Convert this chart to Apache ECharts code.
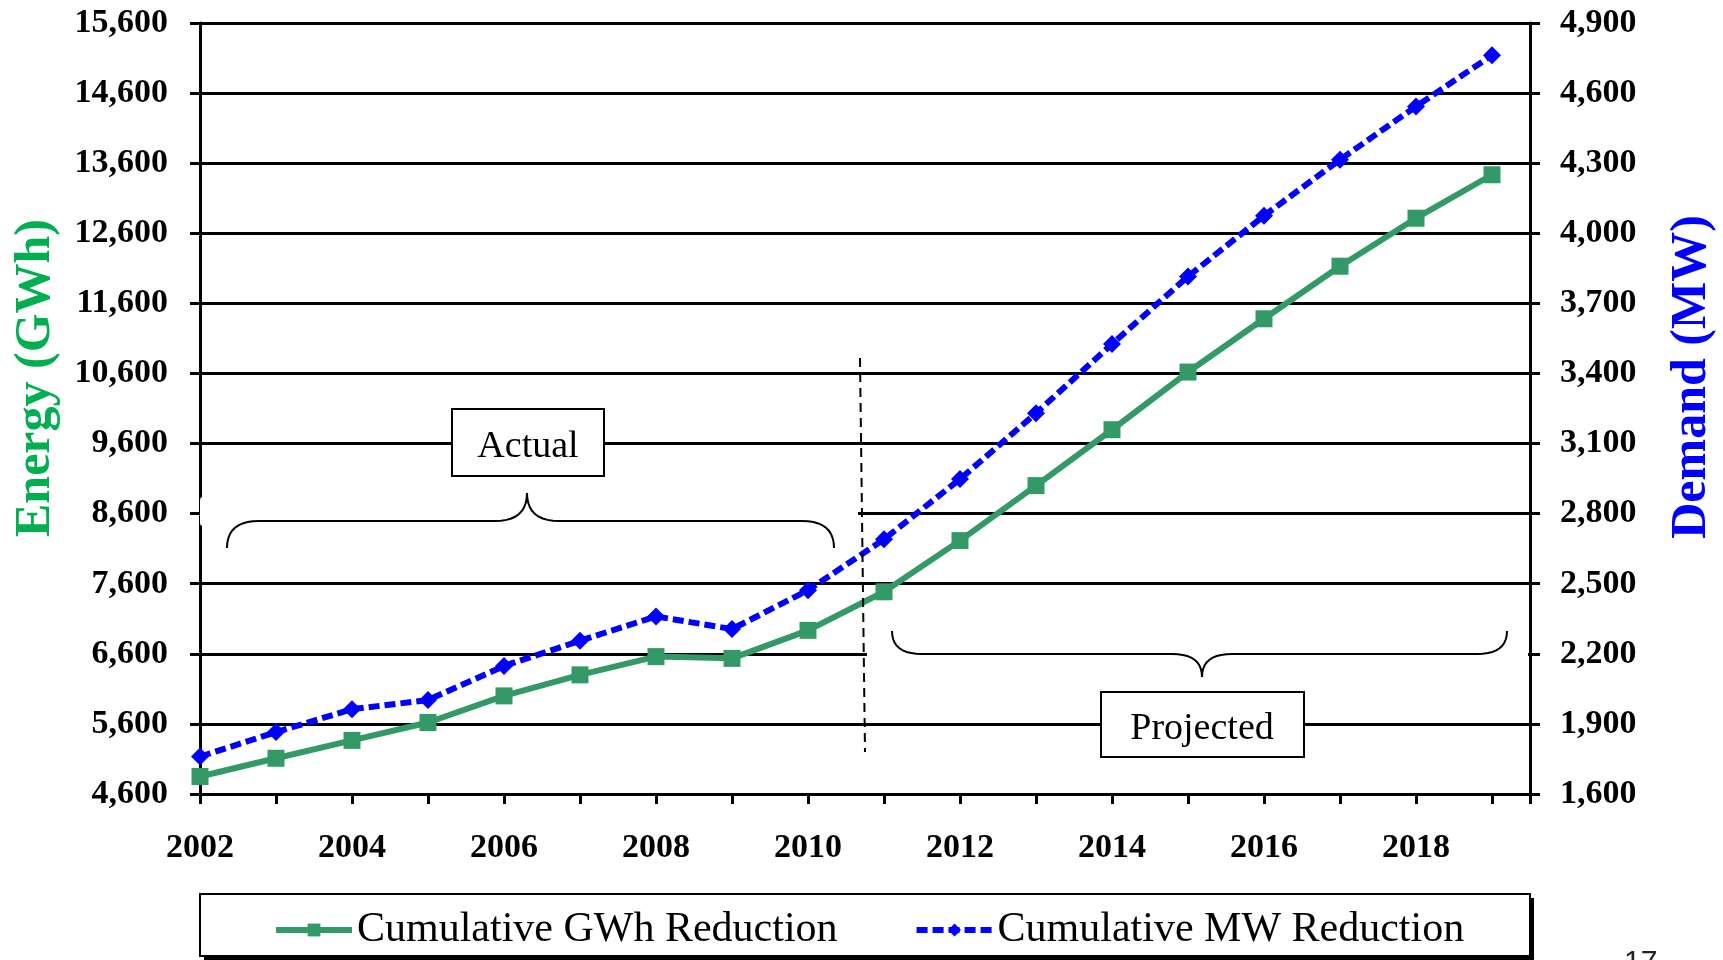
<!DOCTYPE html>
<html>
<meta charset="UTF-8">
<title>cumulative-reduction</title>
<style type="text/css">
    html,
    body {
        margin: 0px;
        width: 100%;
        height: 100%;
        background: #fff;
    }

    #chart {
        width: 1723px;
        height: 960px;
    }
</style>
<script src="https://cdn.jsdelivr.net/npm/echarts@6/dist/echarts.min.js"></script>

<body>
    <div id="chart"></div>
    <script>
        const years = [2002, 2003, 2004, 2005, 2006, 2007, 2008, 2009, 2010, 2011, 2012, 2013, 2014, 2015, 2016, 2017, 2018, 2019];
        // cumulative energy reduction, GWh (left axis)
        const gwhReduction = [4850, 5110, 5365, 5620, 6000, 6300, 6560, 6535, 6935, 7485, 8215, 9000, 9797, 10620, 11380, 12130, 12815, 13435];
        // cumulative demand reduction, MW (right axis)
        const mwReduction = [1760, 1865, 1963, 2002, 2148, 2256, 2360, 2306, 2472, 2690, 2948, 3230, 3526, 3815, 4075, 4315, 4543, 4762];
        const seriesNames = ['Cumulative GWh Reduction', 'Cumulative MW Reduction'];
        const axisTitles = ['Energy (GWh)', 'Demand (MW)'];
        const periodLabels = ['Actual', 'Projected'];
        const pageNumber = '17';

        const serif = "'Liberation Serif', 'Times New Roman', serif";
        const labelStyle = { color: '#000', fontFamily: serif, fontWeight: 'bold', fontSize: 34 };

        // curly brace as a polyline: x0..x1 ends, tip at xm, arms at yLine, ends/tip at yEnd/yTip
        function bracePoints(x0, x1, xm, yEnd, yLine, yTip, r) {
            const pts = [];
            const quad = (p0, c, p1) => {
                for (let t = 0; t <= 1.0001; t += 0.1) {
                    const a = (1 - t) * (1 - t), b = 2 * (1 - t) * t, d = t * t;
                    pts.push([a * p0[0] + b * c[0] + d * p1[0], a * p0[1] + b * c[1] + d * p1[1]]);
                }
            };
            quad([x0, yEnd], [x0, yLine], [x0 + r, yLine]);
            quad([xm - r, yLine], [xm, yLine], [xm, yTip]);
            quad([xm, yTip], [xm, yLine], [xm + r, yLine]);
            quad([x1 - r, yLine], [x1, yLine], [x1, yEnd]);
            return pts;
        }

        const chart = echarts.init(document.querySelector('#chart'));

        const options = {
            backgroundColor: '#fff',
            animation: false,
            grid: { left: 200, right: 193, top: 23, bottom: 166 },
            xAxis: {
                type: 'value',
                min: 2002,
                max: 2019.5,
                interval: 1,
                axisLine: { lineStyle: { color: '#000', width: 3 } },
                axisTick: { show: true, length: 10, lineStyle: { color: '#000', width: 3 } },
                splitLine: { show: false },
                axisLabel: Object.assign({
                    margin: 37,
                    formatter: v => (Number.isInteger(v) && v % 2 === 0 && v < 2019) ? String(v) : ''
                }, labelStyle)
            },
            yAxis: [
                {
                    type: 'value',
                    min: 4600,
                    max: 15600,
                    interval: 1000,
                    axisLine: { show: true, lineStyle: { color: '#000', width: 3 } },
                    axisTick: { show: true, length: 10, lineStyle: { color: '#000', width: 3 } },
                    splitLine: { show: true, lineStyle: { color: '#000', width: 3 } },
                    axisLabel: Object.assign({
                        margin: 32,
                        formatter: v => v.toLocaleString('en-US')
                    }, labelStyle)
                },
                {
                    type: 'value',
                    position: 'right',
                    min: 1600,
                    max: 4900,
                    interval: 300,
                    axisLine: { show: true, lineStyle: { color: '#000', width: 3 } },
                    axisTick: { show: true, length: 10, lineStyle: { color: '#000', width: 3 } },
                    splitLine: { show: false },
                    axisLabel: Object.assign({
                        margin: 30,
                        formatter: v => v.toLocaleString('en-US')
                    }, labelStyle)
                }
            ],
            legend: {
                left: 268,
                top: 901,
                itemWidth: 76,
                itemHeight: 16,
                itemGap: 76,
                data: seriesNames,
                lineStyle: { width: 6 },
                textStyle: { color: '#000', fontFamily: serif, fontSize: 42, lineHeight: 48 }
            },
            series: [
                {
                    name: seriesNames[0],
                    type: 'line',
                    yAxisIndex: 0,
                    z: 3,
                    data: years.map((y, i) => [y, gwhReduction[i]]),
                    symbol: 'rect',
                    symbolSize: 17,
                    color: '#339966',
                    itemStyle: { color: '#339966' },
                    lineStyle: { color: '#339966', width: 6 }
                },
                {
                    name: seriesNames[1],
                    type: 'line',
                    yAxisIndex: 1,
                    z: 3,
                    data: years.map((y, i) => [y, mwReduction[i]]),
                    symbol: 'diamond',
                    symbolSize: 18,
                    color: '#0000ff',
                    itemStyle: { color: '#0000ff' },
                    lineStyle: { color: '#0000ff', width: 6, type: [11, 5] }
                }
            ],
            graphic: [
                // legend frame with its drop shadow
                { type: 'rect', z: 0, shape: { x: 204, y: 898, width: 1330, height: 62 }, style: { fill: '#000' } },
                {
                    type: 'rect', z: 0,
                    shape: { x: 200, y: 894, width: 1330, height: 62 },
                    style: { fill: '#fff', stroke: '#000', lineWidth: 2 }
                },
                // white patches that hide parts of the gridlines
                { type: 'rect', z: 1, shape: { x: 203, y: 508, width: 655, height: 11 }, style: { fill: '#fff' } },
                { type: 'rect', z: 1, shape: { x: 200, y: 497, width: 7, height: 29, r: 3 }, style: { fill: '#fff' } },
                { type: 'rect', z: 1, shape: { x: 867, y: 648, width: 661, height: 11 }, style: { fill: '#fff' } },
                // separator between actual and projected
                {
                    type: 'line', z: 5,
                    shape: { x1: 860, y1: 358, x2: 865, y2: 752 },
                    style: { stroke: '#000', lineWidth: 2, lineDash: [9, 6] }
                },
                // braces
                {
                    type: 'polyline', z: 5,
                    shape: { points: bracePoints(227, 834, 527, 548, 521, 493, 32) },
                    style: { fill: null, stroke: '#000', lineWidth: 2 }
                },
                {
                    type: 'polyline', z: 5,
                    shape: { points: bracePoints(892, 1507, 1202, 631, 654, 677, 30) },
                    style: { fill: null, stroke: '#000', lineWidth: 2 }
                },
                // label boxes
                {
                    type: 'rect', z: 5,
                    shape: { x: 452, y: 409, width: 152, height: 67 },
                    style: { fill: '#fff', stroke: '#000', lineWidth: 2 }
                },
                {
                    type: 'text', z: 6, x: 528, y: 447,
                    style: { text: periodLabels[0], fill: '#000', font: '38px ' + serif, align: 'center', verticalAlign: 'middle' }
                },
                {
                    type: 'rect', z: 5,
                    shape: { x: 1101, y: 692, width: 203, height: 65 },
                    style: { fill: '#fff', stroke: '#000', lineWidth: 2 }
                },
                {
                    type: 'text', z: 6, x: 1202, y: 729,
                    style: { text: periodLabels[1], fill: '#000', font: '38px ' + serif, align: 'center', verticalAlign: 'middle' }
                },
                // axis titles
                {
                    type: 'text', z: 5, x: 36, y: 378, rotation: Math.PI / 2,
                    style: { text: axisTitles[0], fill: '#00b050', font: 'bold 50px ' + serif, align: 'center', verticalAlign: 'middle' }
                },
                {
                    type: 'text', z: 5, x: 1692, y: 377, rotation: Math.PI / 2,
                    style: { text: axisTitles[1], fill: '#0000ff', font: 'bold 50px ' + serif, align: 'center', verticalAlign: 'middle' }
                },
                // page number, cut off at the bottom edge
                {
                    type: 'text', z: 5, x: 1624, y: 948,
                    style: { text: pageNumber, fill: '#222', font: '30px "Liberation Sans", Arial, sans-serif', align: 'left', verticalAlign: 'top' }
                }
            ]
        };
        chart.setOption(options);
    </script>
</body>

</html>
